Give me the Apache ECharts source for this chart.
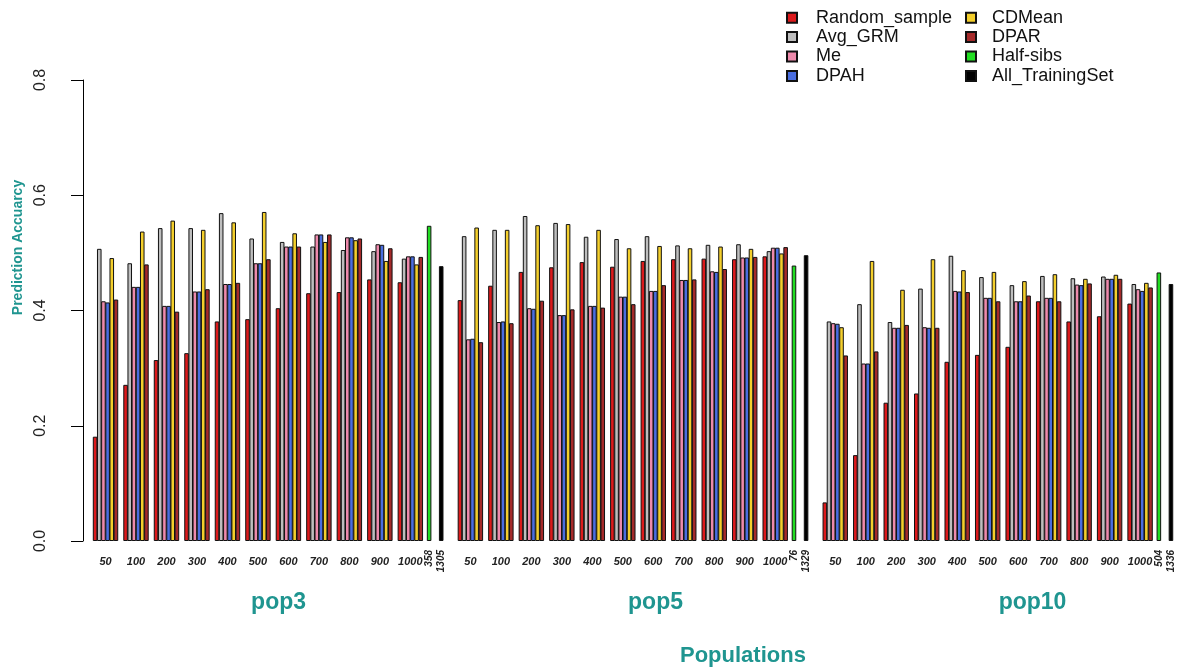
<!DOCTYPE html>
<html>
<head>
<meta charset="utf-8">
<script src="https://cdn.jsdelivr.net/npm/echarts@6/dist/echarts.min.js"></script>
<style>
  html, body { margin: 0; padding: 0; background: #fff; }
  #main { width: 1181px; height: 671px; }
</style>
</head>
<body>
<div id="main"></div>
<script>
// ---- data (pop3, pop5, pop10; 11 training sizes each) ----
var pops = ['pop3', 'pop5', 'pop10'];
var sizes = ['50', '100', '200', '300', '400', '500', '600', '700', '800', '900', '1000'];
var methods = ['Random_sample', 'Avg_GRM', 'Me', 'DPAH', 'CDMean', 'DPAR'];
var halfSibsN = ['358', '76', '504'];
var trainingN = ['1305', '1329', '1336'];

var randomSample = [
  0.181, 0.271, 0.314, 0.326, 0.381, 0.385, 0.404, 0.430, 0.432, 0.454, 0.449,
  0.418, 0.443, 0.467, 0.475, 0.484, 0.476, 0.486, 0.489, 0.490, 0.489, 0.494,
  0.067, 0.149, 0.240, 0.256, 0.311, 0.323, 0.337, 0.416, 0.381, 0.390, 0.412
];
var avgGRM = [
  0.507, 0.482, 0.543, 0.543, 0.569, 0.525, 0.519, 0.511, 0.505, 0.503, 0.490,
  0.529, 0.540, 0.564, 0.552, 0.528, 0.524, 0.529, 0.513, 0.514, 0.515, 0.503,
  0.381, 0.411, 0.380, 0.438, 0.495, 0.458, 0.444, 0.460, 0.456, 0.459, 0.446
];
var me = [
  0.416, 0.441, 0.408, 0.433, 0.446, 0.482, 0.511, 0.532, 0.527, 0.515, 0.494,
  0.350, 0.380, 0.404, 0.392, 0.408, 0.424, 0.434, 0.453, 0.468, 0.492, 0.509,
  0.378, 0.308, 0.370, 0.371, 0.434, 0.422, 0.416, 0.422, 0.445, 0.455, 0.437
];
var dpah = [
  0.414, 0.441, 0.408, 0.433, 0.446, 0.482, 0.511, 0.532, 0.527, 0.514, 0.494,
  0.351, 0.381, 0.403, 0.392, 0.408, 0.424, 0.434, 0.453, 0.467, 0.492, 0.509,
  0.377, 0.308, 0.370, 0.370, 0.433, 0.422, 0.416, 0.422, 0.444, 0.455, 0.434
];
var cdMean = [
  0.491, 0.537, 0.556, 0.540, 0.553, 0.571, 0.534, 0.519, 0.522, 0.486, 0.480,
  0.544, 0.540, 0.548, 0.550, 0.540, 0.508, 0.512, 0.508, 0.511, 0.507, 0.499,
  0.371, 0.486, 0.436, 0.489, 0.470, 0.467, 0.451, 0.463, 0.455, 0.462, 0.448
];
var dpar = [
  0.419, 0.480, 0.398, 0.437, 0.448, 0.489, 0.511, 0.532, 0.525, 0.508, 0.493,
  0.345, 0.378, 0.417, 0.402, 0.405, 0.411, 0.444, 0.454, 0.472, 0.493, 0.510,
  0.322, 0.329, 0.375, 0.370, 0.432, 0.416, 0.426, 0.416, 0.447, 0.455, 0.440
];
var halfSibs = [0.547, 0.478, 0.466];
var allTrainingSet = [0.477, 0.496, 0.446];

var methodValues = [randomSample, avgGRM, me, dpah, cdMean, dpar];
var colors = ['#dc1a1c', '#bebebe', '#ee8aac', '#4a6ee0', '#f4cf2c', '#a52a2a', '#22dd22', '#000000'];
var teal = '#1f9590';
var font = 'Liberation Sans, Arial, sans-serif';

// ---- layout in bar-width units (like barplot's space) ----
var UNIT = 4.17;
var GRID_LEFT = 83, GRID_RIGHT = 4;
var X_MAX = (1181 - GRID_LEFT - GRID_RIGHT) / UNIT;
var POP_START = 2.4, POP_PITCH = 87.5, GROUP_PITCH = 7.31, HS_AT = 80.1, TS_AT = 83.0;
var POP_LABEL_AT = 44.5, POP_LABEL_PITCH = 90.4;

function popBase(p) { return POP_START + p * POP_PITCH; }
function barX(p, g, m) { return popBase(p) + g * GROUP_PITCH + m + 0.5; }

var groupCenters = [], groupText = {};
pops.forEach(function (pop, p) {
  sizes.forEach(function (s, g) {
    var c = barX(p, g, 0) + 2.5;
    groupCenters.push(c);
    groupText[c.toFixed(3)] = s;
  });
});
var nCenters = [], nText = {};
pops.forEach(function (pop, p) {
  var a = popBase(p) + HS_AT + 0.5, b = popBase(p) + TS_AT + 0.5;
  nCenters.push(a, b);
  nText[a.toFixed(3)] = halfSibsN[p];
  nText[b.toFixed(3)] = trainingN[p];
});
var popCenters = [], popText = {};
pops.forEach(function (pop, p) {
  var c = POP_START + POP_LABEL_AT + p * POP_LABEL_PITCH;
  popCenters.push(c);
  popText[c.toFixed(3)] = pop;
});

function barSeries(name, color, data) {
  return {
    name: name,
    type: 'bar',
    barWidth: UNIT + 0.4,
    barGap: '-100%',
    itemStyle: { color: color, borderColor: '#111', borderWidth: 1 },
    data: data
  };
}

var series = methods.map(function (name, m) {
  return barSeries(name, colors[m], methodValues[m].map(function (v, k) {
    return [barX(Math.floor(k / 11), k % 11, m), v];
  }));
});
series.push(barSeries('Half-sibs', colors[6], halfSibs.map(function (v, p) {
  return [popBase(p) + HS_AT + 0.5, v];
})));
series.push(barSeries('All_TrainingSet', colors[7], allTrainingSet.map(function (v, p) {
  return [popBase(p) + TS_AT + 0.5, v];
})));

function hiddenX(extra) {
  var ax = {
    type: 'value', min: 0, max: X_MAX, gridIndex: 0, position: 'bottom',
    axisLine: { show: false }, axisTick: { show: false }, splitLine: { show: false }
  };
  for (var k in extra) ax[k] = extra[k];
  return ax;
}

function legendText(gap) {
  return { fontSize: 18, lineHeight: 19.4, color: '#111', fontFamily: font, padding: [0, 0, 0, gap] };
}

var option = {
  animation: false,
  backgroundColor: '#fff',
  title: {
    text: 'Populations',
    left: 675, top: 640,
    textStyle: { color: teal, fontSize: 22, fontWeight: 'bold', fontFamily: font }
  },
  legend: [
    {
      data: methods.slice(0, 4), orient: 'vertical', left: 781, top: 3,
      itemWidth: 10, itemHeight: 10, itemGap: 0, icon: 'rect',
      textStyle: legendText(14)
    },
    {
      data: ['CDMean', 'DPAR', 'Half-sibs', 'All_TrainingSet'], orient: 'vertical', left: 960, top: 3,
      itemWidth: 10, itemHeight: 10, itemGap: 0, icon: 'rect',
      textStyle: legendText(11)
    }
  ],
  grid: { left: GRID_LEFT, right: GRID_RIGHT, top: 80, bottom: 130, containLabel: false },
  xAxis: [
    hiddenX({
      axisLabel: {
        customValues: groupCenters, margin: 15, fontSize: 11, fontStyle: 'italic', fontWeight: 'bold',
        color: '#222', fontFamily: font,
        formatter: function (v) { return groupText[v.toFixed(3)] || ''; }
      }
    }),
    hiddenX({
      axisLabel: {
        customValues: nCenters, margin: 9, rotate: 90, fontSize: 10, fontStyle: 'italic', fontWeight: 'bold',
        color: '#222', fontFamily: font,
        formatter: function (v) { return nText[v.toFixed(3)] || ''; }
      }
    }),
    hiddenX({
      axisLabel: {
        customValues: popCenters, margin: 50, fontSize: 23, fontWeight: 'bold',
        color: teal, fontFamily: font,
        formatter: function (v) { return popText[v.toFixed(3)] || ''; }
      }
    })
  ],
  yAxis: {
    type: 'value', min: 0, max: 0.8, interval: 0.2,
    name: 'Prediction Accuarcy', nameLocation: 'middle', nameGap: 58, nameRotate: 90,
    nameTextStyle: { color: teal, fontSize: 14, fontWeight: 'bold', fontFamily: font, padding: [0, 0, 0, 126] },
    axisLine: { show: true, lineStyle: { color: '#000', width: 1 } },
    axisTick: { show: true, length: 12, lineStyle: { color: '#000' } },
    splitLine: { show: false },
    axisLabel: {
      rotate: 90, margin: 34, fontSize: 16, color: '#222', fontFamily: font,
      formatter: function (v) { return v.toFixed(1); }
    }
  },
  series: series
};

echarts.init(document.getElementById('main')).setOption(option);
</script>
</body>
</html>
